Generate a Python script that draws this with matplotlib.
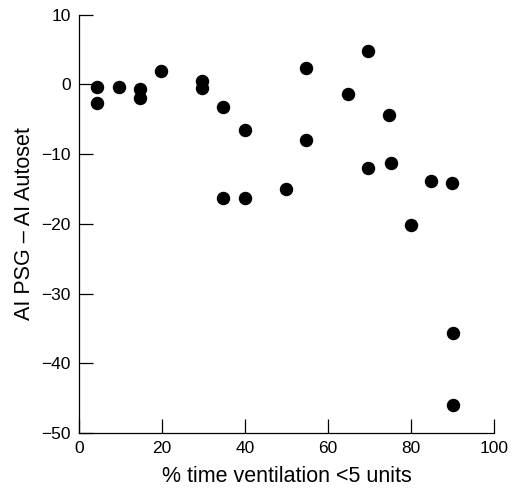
import matplotlib
matplotlib.use('Agg')
import matplotlib.pyplot as plt

# % time ventilation < 5 units vs AI difference
pct_time = [4.4, 4.4, 9.6, 14.7, 14.7, 19.8, 29.6, 29.6, 34.6, 34.6, 39.9, 39.9,
            49.8, 54.7, 54.7, 64.7, 69.7, 69.6, 74.7, 75.1, 80.1, 84.7, 89.8, 90.0, 90.0]
ai_diff = [-0.3, -2.6, -0.3, -0.6, -1.9, 1.9, 0.5, -0.5, -3.2, -16.3, -6.5, -16.3,
           -15.0, 2.3, -8.0, -1.3, 4.8, -12.0, -4.4, -11.3, -20.2, -13.8, -14.2, -35.7, -46.0]

xticks = [0, 20, 40, 60, 80, 100]
yticks = [10, 0, -10, -20, -30, -40, -50]

plt.rcParams['font.family'] = ['Liberation Sans', 'DejaVu Sans']

fig = plt.figure(figsize=(5.12, 4.91), dpi=100)
ax = fig.add_axes([0.154, 0.118, 0.811, 0.852])

ax.scatter(pct_time, ai_diff, s=75, color='black', zorder=3, clip_on=False)

ax.set_xlim(0, 100)
ax.set_ylim(-50, 10)
ax.set_xticks(xticks)
ax.set_yticks(yticks)
ax.set_yticklabels(['\u2212' + str(-t) if t < 0 else str(t) for t in yticks])

for side in ['top', 'right']:
    ax.spines[side].set_visible(False)
for side in ['left', 'bottom']:
    ax.spines[side].set_linewidth(0.9)

ax.tick_params(direction='in', length=10, width=0.9, labelsize=12.5, pad=6)
ax.set_xlabel('% time ventilation <5 units', fontsize=15.5, labelpad=7)
ax.set_ylabel('AI PSG \u2013 AI Autoset', fontsize=15.5, labelpad=4)

fig.savefig('out.png', dpi=100)
